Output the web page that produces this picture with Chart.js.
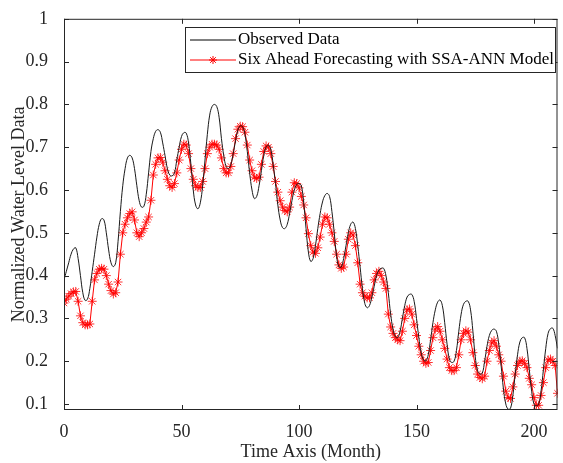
<!DOCTYPE html>
<html>
<head>
<meta charset="utf-8">
<script src="https://cdn.jsdelivr.net/npm/chart.js@4.4.1/dist/chart.umd.min.js"></script>
<style>
  html, body { margin: 0; padding: 0; background: #fff; }
  #wrap { width: 563px; height: 463px; }
</style>
</head>
<body>
<div id="wrap"><canvas id="chart" width="563" height="463"></canvas></div>
<script>
// Observed series, one value per month (0..210)
const observed = [
  0.39, 0.41, 0.43, 0.45, 0.462, 0.465, 0.44, 0.40, 0.36, 0.342,
  0.345, 0.37, 0.41, 0.45, 0.49, 0.52, 0.533, 0.53, 0.50, 0.46,
  0.43, 0.421, 0.43, 0.48, 0.55, 0.61, 0.65, 0.675, 0.681, 0.675,
  0.65, 0.61, 0.575, 0.56, 0.562, 0.59, 0.64, 0.69, 0.72, 0.737,
  0.741, 0.735, 0.71, 0.68, 0.65, 0.635, 0.633, 0.64, 0.67, 0.70,
  0.725, 0.734, 0.733, 0.71, 0.66, 0.60, 0.565, 0.556, 0.57, 0.61,
  0.67, 0.73, 0.775, 0.795, 0.80, 0.795, 0.77, 0.72, 0.68, 0.655,
  0.65, 0.66, 0.685, 0.715, 0.74, 0.75, 0.748, 0.73, 0.69, 0.64,
  0.60, 0.58, 0.585, 0.61, 0.645, 0.68, 0.70, 0.705, 0.695, 0.66,
  0.615, 0.565, 0.53, 0.512, 0.51, 0.52, 0.545, 0.575, 0.60, 0.613,
  0.615, 0.61, 0.57, 0.51, 0.455, 0.433, 0.44, 0.47, 0.51, 0.545,
  0.572, 0.587, 0.592, 0.585, 0.55, 0.50, 0.445, 0.42, 0.42, 0.44,
  0.47, 0.50, 0.52, 0.525, 0.51, 0.47, 0.42, 0.37, 0.335, 0.325,
  0.33, 0.35, 0.375, 0.40, 0.413, 0.417, 0.417, 0.40, 0.36, 0.31,
  0.275, 0.258, 0.255, 0.27, 0.30, 0.33, 0.35, 0.356, 0.356, 0.34,
  0.30, 0.255, 0.22, 0.203, 0.201, 0.215, 0.25, 0.29, 0.32, 0.338,
  0.343, 0.33, 0.29, 0.24, 0.205, 0.197, 0.20, 0.225, 0.27, 0.31,
  0.333, 0.34, 0.34, 0.32, 0.27, 0.21, 0.178, 0.17, 0.172, 0.20,
  0.235, 0.26, 0.272, 0.275, 0.27, 0.24, 0.19, 0.135, 0.10, 0.088,
  0.09, 0.12, 0.17, 0.215, 0.245, 0.255, 0.255, 0.23, 0.18, 0.13,
  0.10, 0.096, 0.10, 0.13, 0.18, 0.23, 0.265, 0.276, 0.277, 0.26,
  0.23
];

// Six ahead forecast (SSA-ANN), one value per month (0..210)
const forecast = [
  0.336, 0.345, 0.352, 0.358, 0.362, 0.363, 0.34, 0.306, 0.29, 0.285,
  0.285, 0.287, 0.34, 0.39, 0.405, 0.415, 0.417, 0.415, 0.40, 0.38,
  0.365, 0.357, 0.36, 0.385, 0.45, 0.50, 0.52, 0.535, 0.545, 0.549,
  0.53, 0.50, 0.491, 0.50, 0.51, 0.525, 0.537, 0.576, 0.635, 0.66,
  0.675, 0.676, 0.665, 0.645, 0.625, 0.61, 0.606, 0.615, 0.64, 0.67,
  0.695, 0.707, 0.705, 0.685, 0.65, 0.625, 0.61, 0.606, 0.606, 0.62,
  0.65, 0.685, 0.70, 0.707, 0.707, 0.705, 0.695, 0.675, 0.65, 0.64,
  0.64, 0.655, 0.685, 0.72, 0.742, 0.749, 0.748, 0.735, 0.705, 0.67,
  0.645, 0.63, 0.627, 0.63, 0.66, 0.69, 0.703, 0.70, 0.685, 0.655,
  0.62, 0.595, 0.575, 0.56, 0.552, 0.549, 0.56, 0.595, 0.617, 0.615,
  0.605, 0.585, 0.565, 0.535, 0.498, 0.47, 0.455, 0.452, 0.465, 0.49,
  0.52, 0.537, 0.535, 0.52, 0.50, 0.48, 0.45, 0.425, 0.417, 0.42,
  0.45, 0.485, 0.50, 0.495, 0.47, 0.43, 0.38, 0.36, 0.352, 0.348,
  0.348, 0.36, 0.39, 0.405, 0.41, 0.40, 0.385, 0.37, 0.31, 0.28,
  0.265, 0.255, 0.25, 0.248, 0.27, 0.30, 0.32, 0.322, 0.31, 0.285,
  0.26, 0.235, 0.215, 0.20, 0.195, 0.197, 0.225, 0.255, 0.275, 0.281,
  0.27, 0.25, 0.23, 0.205, 0.185, 0.178, 0.178, 0.185, 0.215, 0.25,
  0.265, 0.271, 0.268, 0.25, 0.22, 0.19, 0.17, 0.162, 0.159, 0.165,
  0.20, 0.225, 0.243, 0.248, 0.235, 0.215, 0.20, 0.165, 0.13, 0.115,
  0.113, 0.14, 0.17, 0.19, 0.20, 0.201, 0.195, 0.185, 0.16, 0.145,
  0.115, 0.097, 0.097, 0.12, 0.15, 0.185, 0.203, 0.205, 0.20, 0.19,
  0.125
];

const xTicks = [0, 50, 100, 150, 200];
const yTicks = [0.1, 0.2, 0.3, 0.4, 0.5, 0.6, 0.7, 0.8, 0.9, 1];
const legendLabels = ["Observed Data", "Six Ahead Forecasting with SSA-ANN Model"];

const months = observed.map((_, i) => i);
const FONT = "'Liberation Serif', 'Times New Roman', serif";
const AXIS = "#262626";

// MATLAB style box with inward ticks, plus the boxed legend
const frame = {
  id: "frame",
  afterDraw(chart) {
    const { ctx, chartArea: a, scales } = chart;
    ctx.save();
    ctx.strokeStyle = AXIS;
    ctx.lineWidth = 1;
    ctx.strokeRect(a.left + 0.5, a.top + 0.5, a.right - a.left - 1, a.bottom - a.top - 1);
    ctx.beginPath();
    xTicks.forEach(v => {
      const x = Math.round(scales.x.getPixelForValue(v)) + 0.5;
      ctx.moveTo(x, a.bottom); ctx.lineTo(x, a.bottom - 5);
      ctx.moveTo(x, a.top); ctx.lineTo(x, a.top + 5);
    });
    yTicks.forEach(v => {
      const y = Math.round(scales.y.getPixelForValue(v)) + 0.5;
      ctx.moveTo(a.left, y); ctx.lineTo(a.left + 5, y);
      ctx.moveTo(a.right, y); ctx.lineTo(a.right - 5, y);
    });
    ctx.stroke();

    // legend
    const lx = 185, ly = 27, lw = 370, lh = 45;
    ctx.fillStyle = "#fff";
    ctx.fillRect(lx, ly, lw, lh);
    ctx.strokeStyle = "#262626";
    ctx.strokeRect(lx + 0.5, ly + 0.5, lw, lh);
    ctx.font = "17px " + FONT;
    ctx.textBaseline = "middle";
    ctx.fillStyle = "#000";
    const rows = [ly + 13, ly + 33];
    ctx.strokeStyle = "#000";
    ctx.beginPath(); ctx.moveTo(190, rows[0]); ctx.lineTo(236, rows[0]); ctx.stroke();
    ctx.strokeStyle = "red";
    ctx.beginPath(); ctx.moveTo(190, rows[1]); ctx.lineTo(236, rows[1]); ctx.stroke();
    Chart.helpers.drawPoint(ctx, { pointStyle: "star", radius: 4, rotation: 0, borderWidth: 1 }, 213, rows[1]);
    ctx.fillText(legendLabels[0], 238, rows[0]);
    ctx.fillText(legendLabels[1], 238, rows[1]);
    ctx.restore();
  }
};

new Chart(document.getElementById("chart"), {
  type: "line",
  data: {
    labels: months,
    datasets: [
      {
        label: legendLabels[0],
        data: observed,
        borderColor: "#1a1a1a",
        borderWidth: 1,
        pointRadius: 0,
        tension: 0.4
      },
      {
        label: legendLabels[1],
        data: forecast,
        borderColor: "red",
        borderWidth: 1,
        pointStyle: "star",
        pointRadius: 4.5,
        pointBorderColor: "rgba(255,0,0,0.8)",
        pointBorderWidth: 1,
        tension: 0
      }
    ]
  },
  options: {
    responsive: false,
    animation: false,
    devicePixelRatio: 1,
    layout: { padding: { top: 15, right: 2, left: 0, bottom: 0 } },
    plugins: { legend: { display: false }, tooltip: { enabled: false } },
    scales: {
      x: {
        type: "linear",
        min: 0,
        max: 210,
        afterBuildTicks: s => { s.ticks = xTicks.map(v => ({ value: v })); },
        afterFit: s => { s.height = 53; },
        grid: { display: false },
        border: { display: false },
        ticks: { color: AXIS, font: { family: FONT, size: 18 }, padding: 3, maxRotation: 0 },
        title: { display: true, text: "Time Axis (Month)", color: AXIS, font: { family: FONT, size: 18 }, padding: 0 }
      },
      y: {
        min: 0.086,
        max: 1,
        afterBuildTicks: s => { s.ticks = yTicks.map(v => ({ value: v })); },
        afterFit: s => { s.width = 64; },
        grid: { display: false },
        border: { display: false },
        ticks: { color: AXIS, font: { family: FONT, size: 18 }, padding: 8, callback: v => String(+v.toFixed(1)) },
        title: { display: true, text: "Normalized Water Level Data", color: AXIS, font: { family: FONT, size: 18 }, padding: { top: 8, bottom: 0 } }
      }
    }
  },
  plugins: [frame]
});
</script>
</body>
</html>
